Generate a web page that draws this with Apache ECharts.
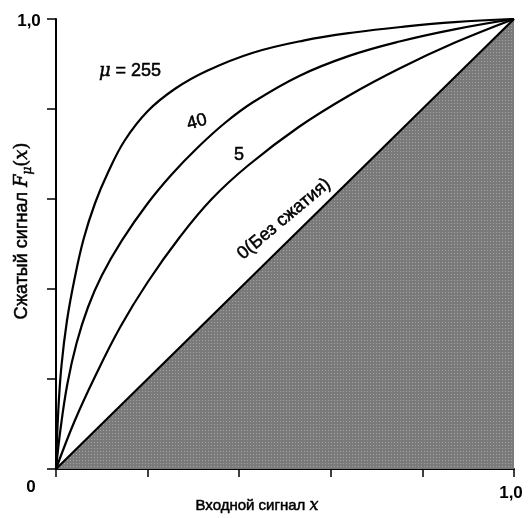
<!DOCTYPE html>
<html><head><meta charset="utf-8">
<script src="https://cdn.jsdelivr.net/npm/echarts@6/dist/echarts.min.js"></script>
<style>html,body{margin:0;padding:0;background:#fff}#c{width:528px;height:518px}</style>
</head><body><div id="c"></div>
<script>
// Curve values (x = input, y = compressed output)
const x255 = [0, 0.005, 0.012, 0.024, 0.04, 0.06, 0.085, 0.114, 0.15, 0.2, 0.26, 0.33, 0.43, 0.54, 0.65, 0.76, 0.87, 1.0];
const y255 = [0, 0.13, 0.23, 0.33, 0.42, 0.51, 0.59, 0.66, 0.73, 0.795, 0.845, 0.885, 0.925, 0.952, 0.970, 0.983, 0.993, 1.0];
const x40 = [0, 0.01, 0.025, 0.045, 0.07, 0.1, 0.144, 0.2, 0.253, 0.31, 0.37, 0.43, 0.53, 0.64, 0.75, 0.87, 1.0];
const y40 = [0, 0.09, 0.19, 0.28, 0.36, 0.43, 0.508, 0.59, 0.655, 0.715, 0.77, 0.815, 0.873, 0.918, 0.950, 0.977, 1.0];
const x5 = [0, 0.04, 0.085, 0.14, 0.2, 0.27, 0.34, 0.42, 0.53, 0.64, 0.75, 0.87, 1.0];
const y5 = [0, 0.105, 0.205, 0.315, 0.415, 0.515, 0.6, 0.675, 0.76, 0.83, 0.89, 0.947, 1.0];
const x0 = [0, 1.0];
const y0 = [0, 1.0];
const tickLabels = {min: '0', max: '1,0'};
const curveNames = ['μ = 255', '40', '5', '0(Без сжатия)'];
const xTitle = 'Входной сигнал ';
const yTitle = 'Сжатый сигнал ';

const zip = (a, b) => a.map((v, i) => [v, b[i]]);

// halftone pattern for the shaded triangle
const pat = document.createElement('canvas');
pat.width = 3; pat.height = 3;
const pc = pat.getContext('2d');
pc.fillStyle = '#7a7a7a'; pc.fillRect(0, 0, 3, 3);
pc.fillStyle = '#a2a2a2'; pc.fillRect(1, 1, 1, 1);

const chart = echarts.init(document.getElementById('c'), null, {renderer: 'canvas'});
const lineStyle = {color: '#000', width: 2.2};
const mkLine = (name, data, extra) => Object.assign({
  type: 'line', name, data, symbol: 'none', smooth: 0.4,
  lineStyle, silent: true, z: 5
}, extra || {});

const F = '"Liberation Sans", Arial, sans-serif';
const S = '"DejaVu Serif", serif';
const ink = {fill: '#000', stroke: '#000', lineWidth: 0.5};
const T = (o) => Object.assign({}, ink, o);
chart.setOption({
  animation: false,
  backgroundColor: '#fff',
  grid: {left: 56, right: 14, top: 19, bottom: 49, containLabel: false},
  xAxis: {
    type: 'value', min: 0, max: 1, interval: 0.2,
    axisLine: {show: true, onZero: false, lineStyle: {color: '#000', width: 2}},
    axisTick: {show: true, length: 8, lineStyle: {color: '#000', width: 1.5}},
    axisLabel: {show: false},
    splitLine: {show: false}
  },
  yAxis: {
    type: 'value', min: 0, max: 1, interval: 0.2,
    axisLine: {show: true, onZero: false, lineStyle: {color: '#000', width: 2}},
    axisTick: {show: true, length: 9, lineStyle: {color: '#000', width: 1.5}},
    axisLabel: {show: false},
    splitLine: {show: false}
  },
  series: [
    mkLine('0', zip(x0, y0), {smooth: false, areaStyle: {color: {image: pat, repeat: 'repeat'}, opacity: 1}, z: 3}),
    mkLine('5', zip(x5, y5)),
    mkLine('40', zip(x40, y40)),
    mkLine('255', zip(x255, y255))
  ],
  graphic: [
    {type: 'text', x: 29, y: 21, style: {text: tickLabels.max, font: 'bold 17px ' + F, fill: '#000', textAlign: 'center', textVerticalAlign: 'middle'}},
    {type: 'text', x: 31, y: 487, style: {text: tickLabels.min, font: 'bold 17px ' + F, fill: '#000', textAlign: 'center', textVerticalAlign: 'middle'}},
    {type: 'text', x: 511, y: 493, style: {text: tickLabels.max, font: 'bold 17px ' + F, fill: '#000', textAlign: 'center', textVerticalAlign: 'middle'}},
    {type: 'text', x: 257, y: 506, style: {
      text: '{a|' + xTitle + '}{i|x}', textAlign: 'center', textVerticalAlign: 'middle',
      rich: {a: T({font: '15px ' + F}), i: T({font: 'italic 16px ' + S})}
    }},
    {type: 'text', x: 22, y: 231, rotation: Math.PI / 2, style: {
      text: '{a|' + yTitle + '}{i|F}{s|μ}{p|(}{i|x}{p|)}', textAlign: 'center', textVerticalAlign: 'middle',
      rich: {
        a: T({font: '18px ' + F, lineHeight: 24, verticalAlign: 'middle'}),
        i: T({font: 'italic 18px ' + S, lineHeight: 24, verticalAlign: 'middle'}),
        p: T({font: '18px ' + S, lineHeight: 24, verticalAlign: 'middle'}),
        s: T({font: 'italic 12px ' + S, lineHeight: 24, verticalAlign: 'bottom'})
      }
    }},
    {type: 'text', x: 130, y: 71, style: {
      text: '{i|μ}{a| = 255}', textAlign: 'center', textVerticalAlign: 'middle',
      rich: {i: T({font: 'italic 18px ' + S}), a: T({font: '18px ' + F})}
    }},
    {type: 'text', x: 197, y: 122, rotation: 15 * Math.PI / 180, style: T({text: curveNames[1], font: '18px ' + F, textAlign: 'center', textVerticalAlign: 'middle'})},
    {type: 'text', x: 239, y: 155, style: T({text: curveNames[2], font: '18px ' + F, textAlign: 'center', textVerticalAlign: 'middle'})},
    {type: 'text', x: 284, y: 219, rotation: 40 * Math.PI / 180, style: T({text: curveNames[3], font: '18px ' + F, textAlign: 'center', textVerticalAlign: 'middle'})}
  ]
});
</script></body></html>
